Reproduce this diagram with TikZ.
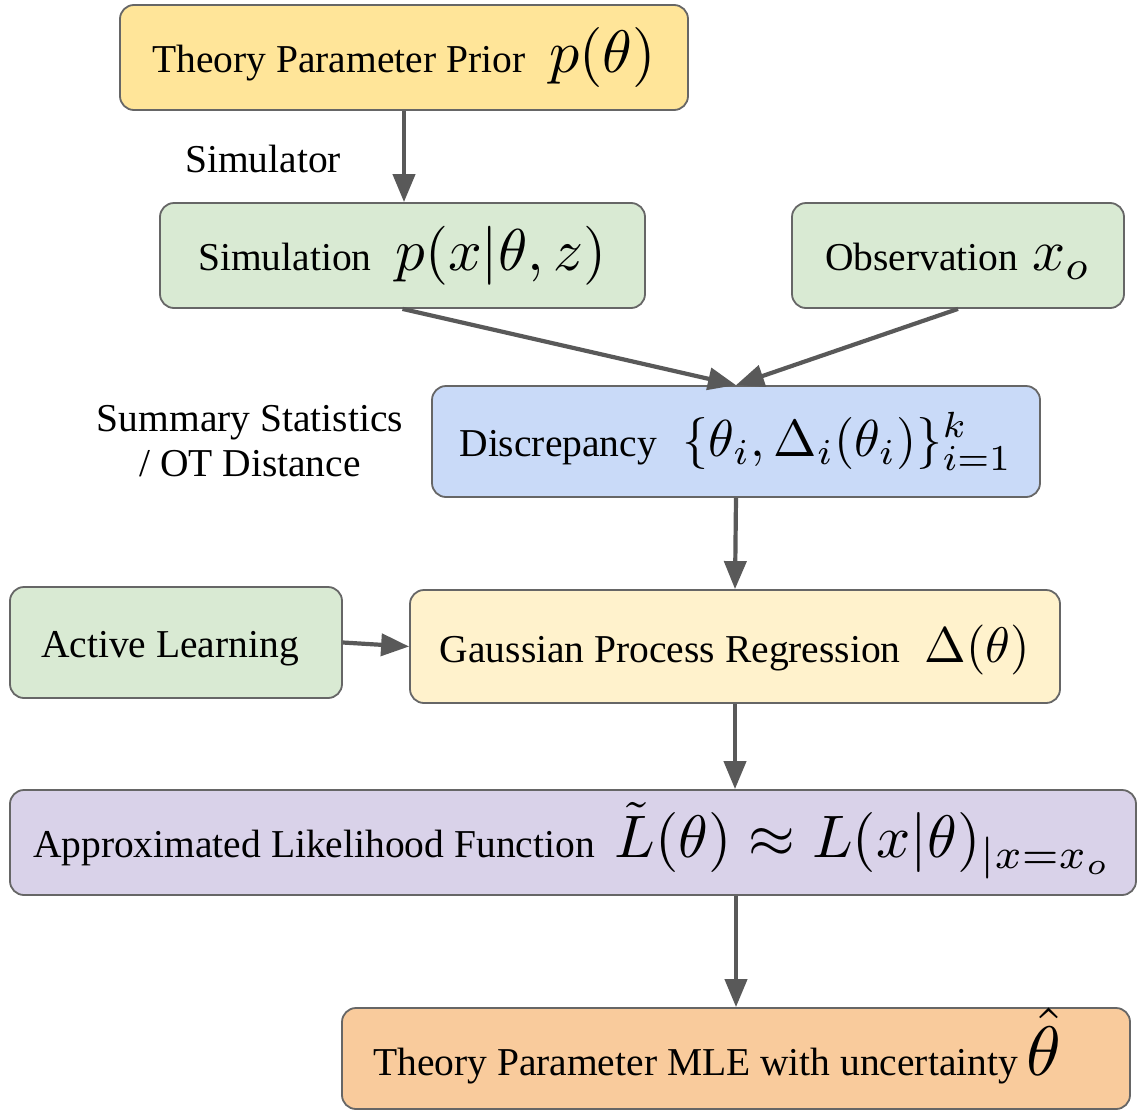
\documentclass[tikz,border=0pt]{standalone}
\usepackage[no-math]{fontspec}
\usepackage{graphicx}
\setmainfont{Liberation Serif}
\usetikzlibrary{arrows.meta}
\definecolor{cPrior}{HTML}{FFE599}
\definecolor{cGreen}{HTML}{D9EAD3}
\definecolor{cBlue}{HTML}{C9DAF8}
\definecolor{cGP}{HTML}{FFF2CC}
\definecolor{cPurple}{HTML}{D9D2E9}
\definecolor{cOrange}{HTML}{F9CB9C}
\definecolor{cBorder}{HTML}{666666}
\definecolor{cArrow}{HTML}{595959}
\newcommand{\M}[2][5.6]{\scalebox{#1}{\fontsize{10}{12}\selectfont$#2$}}
\tikzset{
  box/.style={draw=cBorder, line width=1.8pt, rounded corners=14pt, inner sep=0pt, align=center,
    font=\fontsize{39.5}{46}\selectfont, text height=40pt, text depth=10pt},
  lbl/.style={inner sep=0pt, align=center, font=\fontsize{39.5}{45}\selectfont},
  arr/.style={draw=cArrow, line width=4.2pt, -{Triangle[length=28pt,width=22pt]}}
}
\begin{document}
\begin{tikzpicture}[x=1pt,y=-1pt]
\useasboundingbox (0,0) rectangle (1138,1111);
\node[box, fill=cPrior, minimum width=568pt, minimum height=105pt] (prior) at (404,57.5)
  {Theory Parameter Prior\hspace{24pt}\M[6.0]{p(\theta)}};
\node[lbl, anchor=base] (simlbl) at (263,172) {Simulator};
\node[box, fill=cGreen, minimum width=485pt, minimum height=105pt] (sim) at (402.5,255.5)
  {Simulation\hspace{24pt}\M[5.9]{p(x|\theta, z)}};
\node[box, fill=cGreen, minimum width=332pt, minimum height=105pt] (obs) at (958,255.5)
  {Observation\hspace{14pt}\M[5.8]{x_o}};
\node[box, fill=cBlue, minimum width=608pt, minimum height=111pt] (disc) at (736,441.5)
  {Discrepancy\hspace{26pt}\M[5.2]{\{\theta_i, \Delta_i(\theta_i)\}_{i=1}^k}};
\node[lbl] (sumlbl) at (250,441) {Summary Statistics\\/ OT Distance};
\node[box, fill=cGP, minimum width=650pt, minimum height=113pt, text height=42pt] (gp) at (735,646.5)
  {Gaussian Process Regression\hspace{24pt}\M[5.0]{\Delta(\theta)}};
\node[box, fill=cGreen, minimum width=332pt, minimum height=111pt] (al) at (176,642.5)
  {\hspace*{-12pt}Active Learning};
\node[box, fill=cPurple, minimum width=1126pt, minimum height=105pt] (approx) at (573,842.5)
  {Approximated Likelihood Function\hspace{20pt}\M[6.0]{\tilde{L}(\theta) \approx L(x|\theta)_{|x=x_o}}};
\node[box, fill=cOrange, minimum width=788pt, minimum height=101pt, text height=43pt] (mle) at (736,1058.5)
  {\hspace*{-38pt}Theory Parameter MLE with uncertainty\hspace{8pt}\M[7.0]{\hat{\theta}}};
\draw[arr] (prior.south) -- (prior.south |- sim.north);
\draw[arr] (sim.south) -- (disc.north);
\draw[arr] (obs.south) -- (disc.north);
\draw[arr] (disc.south) -- (gp.north);
\draw[arr] (al.east) -- (gp.west);
\draw[arr] (gp.south) -- (gp.south |- approx.north);
\draw[arr] (mle.north |- approx.south) -- (mle.north);
\end{tikzpicture}
\end{document}
